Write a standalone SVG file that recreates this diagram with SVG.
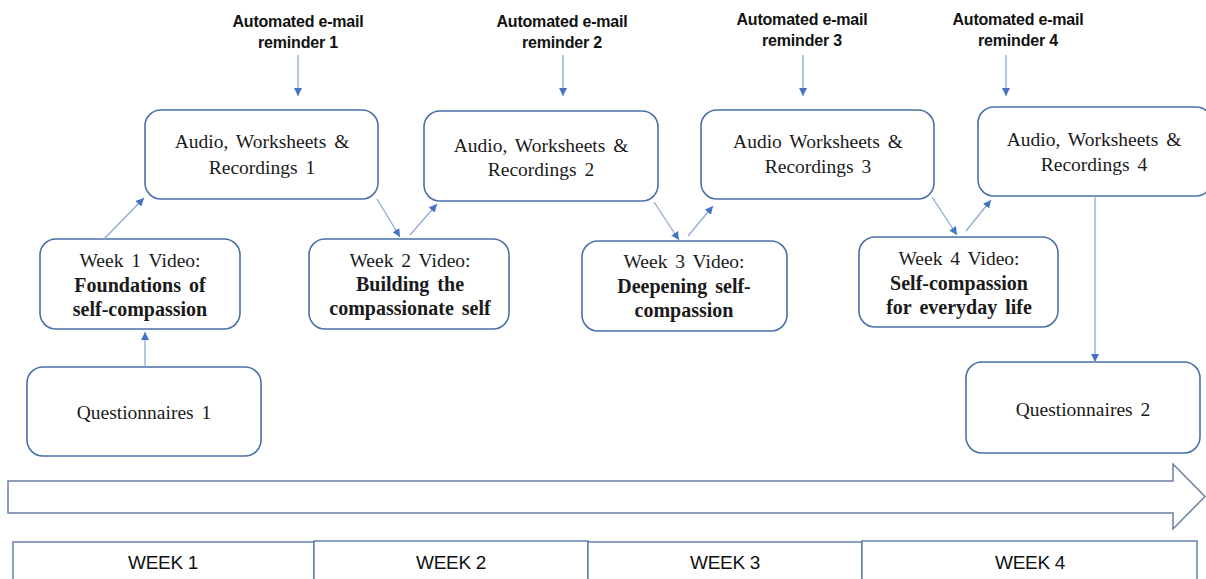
<svg xmlns="http://www.w3.org/2000/svg" width="1206" height="579" viewBox="0 0 1206 579">
<style>
.box{fill:#fff;stroke:#4a70a8;stroke-width:1.6}
.wk{fill:#fff;stroke:#5a78a8;stroke-width:1.4}
.t{font-family:"Liberation Serif","Times New Roman",serif;font-size:19.5px;fill:#1a1a1a;text-anchor:middle;word-spacing:3px}
.b{font-weight:bold;font-size:20px}
.rem{font-family:"Liberation Sans",Arial,sans-serif;font-size:16px;font-weight:bold;fill:#111;text-anchor:middle;letter-spacing:-0.2px}
.wl{font-family:"Liberation Sans",Arial,sans-serif;font-size:19px;fill:#111;text-anchor:middle;letter-spacing:-0.3px}
.c{stroke:#8fa9d8;stroke-width:1.3;fill:none;marker-end:url(#ah)}
</style>
<defs>
<marker id="ah" markerWidth="9" markerHeight="8" refX="8" refY="4" orient="auto" markerUnits="userSpaceOnUse">
<path d="M0,0 L8,4 L0,8 Z" fill="#4472c4"/>
</marker>
</defs>

<g id="reminder1"><text class="rem" x="298" y="27">Automated e-mail</text><text class="rem" x="298" y="48">reminder 1</text></g>
<g id="reminder2"><text class="rem" x="562" y="27">Automated e-mail</text><text class="rem" x="562" y="48">reminder 2</text></g>
<g id="reminder3"><text class="rem" x="802" y="25">Automated e-mail</text><text class="rem" x="802" y="46">reminder 3</text></g>
<g id="reminder4"><text class="rem" x="1018" y="25">Automated e-mail</text><text class="rem" x="1018" y="46">reminder 4</text></g>

<g id="audio1"><rect class="box" x="145" y="110" width="233" height="89" rx="16"/><text class="t" x="262" y="148">Audio, Worksheets &amp;</text><text class="t" x="262" y="174">Recordings 1</text></g>
<g id="audio2"><rect class="box" x="424" y="111" width="234" height="90" rx="16"/><text class="t" x="541" y="152">Audio, Worksheets &amp;</text><text class="t" x="541" y="176">Recordings 2</text></g>
<g id="audio3"><rect class="box" x="701" y="110" width="233" height="89" rx="16"/><text class="t" x="818" y="148">Audio Worksheets &amp;</text><text class="t" x="818" y="173">Recordings 3</text></g>
<g id="audio4"><rect class="box" x="978" y="107" width="234" height="89" rx="16"/><text class="t" x="1094" y="146">Audio, Worksheets &amp;</text><text class="t" x="1094" y="171">Recordings 4</text></g>

<g id="week1video"><rect class="box" x="40" y="239" width="200" height="90" rx="16"/><text class="t" x="140" y="267">Week 1 Video:</text><text class="t b" x="140" y="292">Foundations of</text><text class="t b" x="140" y="316">self-compassion</text></g>
<g id="week2video"><rect class="box" x="309" y="239" width="200" height="90" rx="16"/><text class="t" x="410" y="267">Week 2 Video:</text><text class="t b" x="410" y="291">Building the</text><text class="t b" x="410" y="315">compassionate self</text></g>
<g id="week3video"><rect class="box" x="582" y="241" width="205" height="90" rx="16"/><text class="t" x="684" y="268">Week 3 Video:</text><text class="t b" x="684" y="293">Deepening self-</text><text class="t b" x="684" y="317">compassion</text></g>
<g id="week4video"><rect class="box" x="859" y="237" width="199" height="90" rx="16"/><text class="t" x="959" y="265">Week 4 Video:</text><text class="t b" x="959" y="290">Self-compassion</text><text class="t b" x="959" y="314">for everyday life</text></g>

<g id="questionnaires1"><rect class="box" x="27" y="367" width="234" height="89" rx="16"/><text class="t" x="144" y="419">Questionnaires 1</text></g>
<g id="questionnaires2"><rect class="box" x="966" y="362" width="234" height="91" rx="16"/><text class="t" x="1083" y="416">Questionnaires 2</text></g>

<g id="timeline"><polygon points="8,481 1173,481 1173,464 1205,496.5 1173,529 1173,513 8,513" fill="#fff" stroke="#6a7fa0" stroke-width="1.5"/></g>

<g id="weeks">
<rect class="wk" x="13" y="542" width="301" height="50"/>
<rect class="wk" x="314" y="541" width="274" height="50"/>
<rect class="wk" x="588" y="542" width="274" height="50"/>
<rect class="wk" x="862" y="541" width="335" height="50"/>
<text class="wl" x="163" y="569">WEEK 1</text>
<text class="wl" x="451" y="569">WEEK 2</text>
<text class="wl" x="725" y="569">WEEK 3</text>
<text class="wl" x="1030" y="569">WEEK 4</text>
</g>

<g id="connectors">
<line class="c" x1="298" y1="55" x2="298" y2="96"/>
<line class="c" x1="563" y1="55" x2="563" y2="96"/>
<line class="c" x1="803" y1="55" x2="803" y2="96"/>
<line class="c" x1="1006" y1="55" x2="1006" y2="96"/>
<line class="c" x1="145" y1="367" x2="145" y2="332"/>
<line class="c" x1="104" y1="239" x2="144" y2="198"/>
<line class="c" x1="377" y1="199" x2="400" y2="237"/>
<line class="c" x1="410" y1="235" x2="437" y2="204"/>
<line class="c" x1="654" y1="202" x2="679" y2="240"/>
<line class="c" x1="688" y1="236" x2="713" y2="206"/>
<line class="c" x1="932" y1="197" x2="957" y2="235"/>
<line class="c" x1="966" y1="231" x2="991" y2="200"/>
<line class="c" x1="1095" y1="196" x2="1095" y2="362"/>
</g>
</svg>
